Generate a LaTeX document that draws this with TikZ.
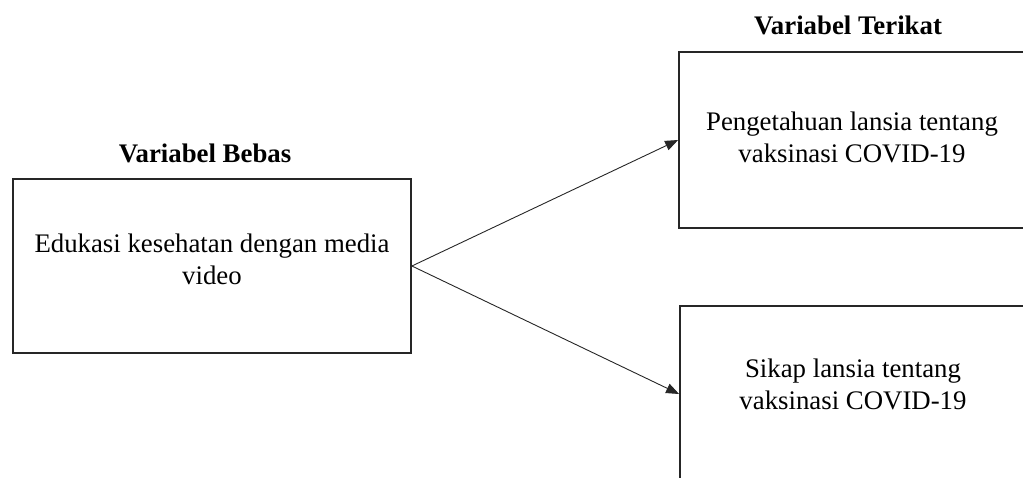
\documentclass[tikz,border=0pt]{standalone}
\usepackage{fontspec}
\setmainfont{Liberation Serif}
\usetikzlibrary{arrows.meta,positioning}

\begin{document}
\begin{tikzpicture}[x=1pt, y=-1pt,
  varbox/.style={draw=black!85, line width=1.8pt, inner sep=0pt},
  boxtext/.style={align=center, font=\fontsize{26.8}{32}\selectfont},
  head/.style={font=\fontsize{26.8}{32}\selectfont\bfseries},
  arrow/.style={-{Triangle[length=13pt, width=10pt]}, line width=0.9pt, black!85}]
  \useasboundingbox (0,0) rectangle (1023,477);
  \clip (0,0) rectangle (1023,477);

  % Independent variable
  \node[head] (headbebas) at (205,153) {Variabel Bebas};
  \node[varbox, minimum width=398pt, minimum height=174pt] (bebas) at (212,266) {};
  \node[boxtext] (bebastext) at (212,259) {Edukasi kesehatan dengan media\\video};

  % Dependent variables
  \node[head] (headterikat) at (848,25) {Variabel Terikat};
  \node[varbox, minimum width=346pt, minimum height=176pt] (tahu) at (852,140) {};
  \node[boxtext] (tahutext) at (852,137) {Pengetahuan lansia tentang\\vaksinasi COVID-19};
  \node[varbox, minimum width=346pt, minimum height=176pt] (sikap) at (853,394) {};
  \node[boxtext] (sikaptext) at (853,384) {Sikap lansia tentang\\vaksinasi COVID-19};

  % Arrows
  \draw[arrow] (bebas.east) -- (tahu.west);
  \draw[arrow] (bebas.east) -- (sikap.west);
\end{tikzpicture}
\end{document}
